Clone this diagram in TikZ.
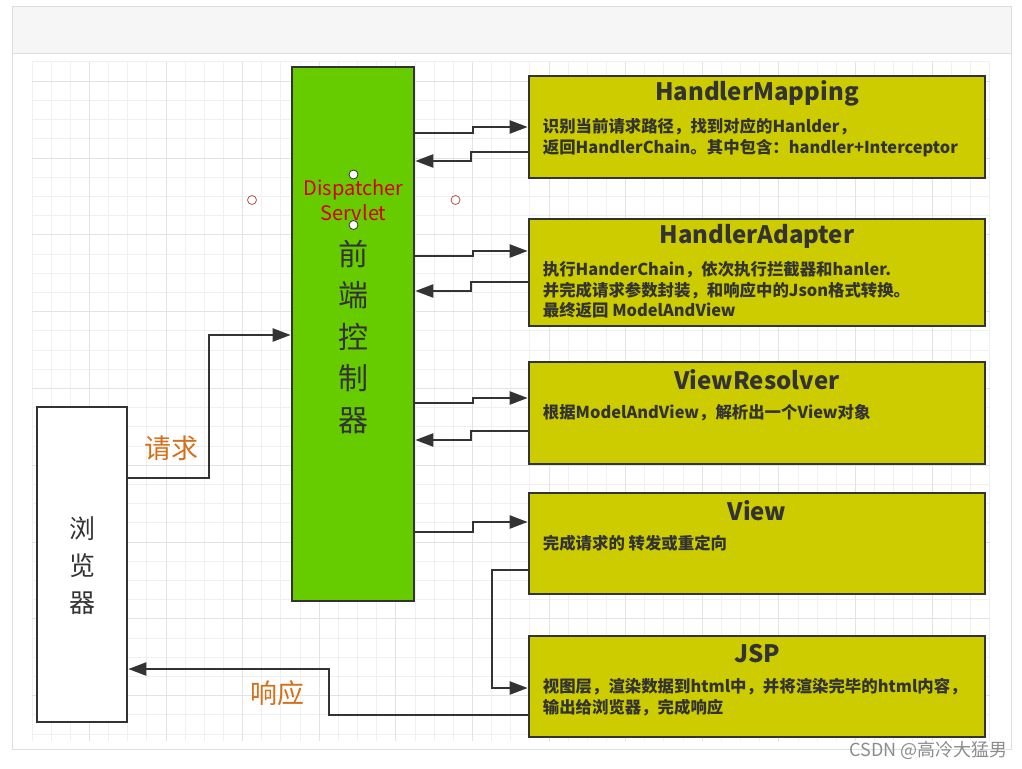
\documentclass[tikz,border=0pt]{standalone}
\usepackage{fontspec}
\setmainfont{Noto Sans CJK SC}
\usetikzlibrary{calc,arrows.meta}
\definecolor{framegray}{HTML}{DEDEDE}
\definecolor{headgray}{HTML}{F6F6F6}
\definecolor{gridminor}{HTML}{F0F0F0}
\definecolor{gridmajor}{HTML}{E3E3E3}
\definecolor{boxline}{HTML}{333333}
\definecolor{frontgreen}{HTML}{66CC00}
\definecolor{compyellow}{HTML}{CCCC00}
\definecolor{labelorange}{HTML}{D4701A}
\definecolor{servletred}{HTML}{D40000}
\definecolor{dotred}{HTML}{B85450}
\tikzset{
  box/.style={draw=boxline, line width=2.6pt, inner sep=0pt},
  compbox/.style={box, fill=compyellow, minimum width=456},
  comptitle/.style={font=\fontsize{24}{28}\selectfont\bfseries, text=boxline, inner sep=0pt},
  compbody/.style={font=\fontsize{16.4}{20.5}\selectfont\bfseries, text=boxline, align=left, anchor=north west, inner sep=0pt},
  arr/.style={draw=boxline, line width=2.2pt, -{Triangle[length=18pt,width=13pt]}},
  flowlabel/.style={font=\fontsize{27}{30}\selectfont, text=labelorange, inner sep=0pt},
}
% name, y center, height, title, body
\newcommand\compbox[5]{%
  \node[compbox, minimum height=#3] (#1) at (757,#2) {};
  \node[comptitle] (#1-title) at ($(#1.north)+(0,19)$) {#4};
  \node[compbody] (#1-body) at ($(#1.north west)+(15,43.5)$) {#5};
}

\begin{document}
\begin{tikzpicture}[x=1pt,y=-1pt]
        \useasboundingbox (0,0) rectangle (1022,768);
        % The frame
        \fill[headgray] (12,7) rectangle (1011,54);
        \draw[framegray, line width=1pt] (12,7) rectangle (1011,749);
        \draw[framegray, line width=1pt] (12,54) -- (1011,54);

        % The grid
        \foreach \i in {0,...,50} {
          \draw[gridminor, line width=1pt] (32+19.15*\i,62) -- (32+19.15*\i,741);
        }
        \foreach \j in {0,...,35} {
          \draw[gridminor, line width=1pt] (32,62+19.2*\j) -- (990,62+19.2*\j);
        }
        \foreach \i in {3,7,...,47} {
          \draw[gridmajor, line width=1pt] (32+19.15*\i,62) -- (32+19.15*\i,741);
        }
        \foreach \j in {1,5,...,33} {
          \draw[gridmajor, line width=1pt] (32,62+19.2*\j) -- (990,62+19.2*\j);
        }

        % Browser and front controller
        \node[box, fill=white, minimum width=90, minimum height=315] (browser) at (82,564.5) {};
        \node[font=\fontsize{26}{37}\selectfont, text=boxline, align=center] (browser-text) at (82,566) {浏\\览\\器};
        \node[box, fill=frontgreen, minimum width=122, minimum height=534] (front) at (353,334) {};
        \node[font=\fontsize{20}{24.5}\selectfont, text=servletred, align=center, inner sep=0pt] (servlet) at (353.5,200) {Dispatcher\\Servlet};
        \node[font=\fontsize{30}{41.5}\selectfont, text=boxline, align=center] (front-text) at (353,337) {前\\端\\控\\制\\器};
        \draw[boxline, fill=white, line width=0.8pt] (353.5,174.5) circle (4.5pt);
        \draw[boxline, fill=white, line width=0.8pt] (353.5,225) circle (4.5pt);
        \draw[dotred, line width=0.8pt] (252,200) circle (4.5pt);
        \draw[dotred, line width=0.8pt] (455.5,200) circle (4.5pt);

        % The components
        \compbox{hm}{127}{102}{HandlerMapping}{识别当前请求路径，找到对应的Hanlder，\\返回HandlerChain。其中包含：handler+Interceptor}
        \compbox{ha}{272.5}{107}{HandlerAdapter}{执行HanderChain，依次执行拦截器和hanler.\\并完成请求参数封装，和响应中的Json格式转换。\\最终返回 ModelAndView}
        \compbox{vr}{413}{102}{ViewResolver}{根据ModelAndView，解析出一个View对象}
        \compbox{view}{543.5}{101}{View}{完成请求的 转发或重定向}
        \compbox{jsp}{686.5}{101}{JSP}{视图层，渲染数据到html中，并将渲染完毕的html内容，\\输出给浏览器，完成响应}

        % Request and response
        \draw[arr] ($(browser.east)+(0,-86.5)$) -- ++(81,0) |- ($(front.west)+(0,1)$);
        \node[flowlabel] (req) at (171,448) {请求};
        \draw[arr] ($(jsp.west)+(0,28.5)$) -- ++(-199,0) |- ($(browser.east)+(0,104.5)$);
        \node[flowlabel] (resp) at (277,693) {响应};

        % Front controller to components and back
        \draw[arr] ($(front.east)+(0,-201)$) -- ++(58,0) |- (hm.west);
        \draw[arr] ($(hm.west)+(0,25)$) -- ++(-57,0) |- ($(front.east)+(0,-173)$);
        \draw[arr] ($(front.east)+(0,-78)$) -- ++(58,0) |- ($(ha.west)+(0,-21.5)$);
        \draw[arr] ($(ha.west)+(0,9.5)$) -- ++(-57,0) |- ($(front.east)+(0,-43)$);
        \draw[arr] ($(front.east)+(0,69)$) -- ++(58,0) |- ($(vr.west)+(0,-15)$);
        \draw[arr] ($(vr.west)+(0,18)$) -- ++(-57,0) |- ($(front.east)+(0,106)$);
        \draw[arr] ($(front.east)+(0,198)$) -- ++(58,0) |- ($(view.west)+(0,-21.5)$);
        \draw[arr] ($(view.west)+(0,26.5)$) -- ++(-36,0) |- ($(jsp.west)+(0,1.5)$);

        % Watermark
        \node[anchor=east, font=\fontsize{18}{20}\selectfont, text=black!45, inner sep=0pt] (mark) at (1008,750) {CSDN @高冷大猛男};
\end{tikzpicture}
\end{document}
